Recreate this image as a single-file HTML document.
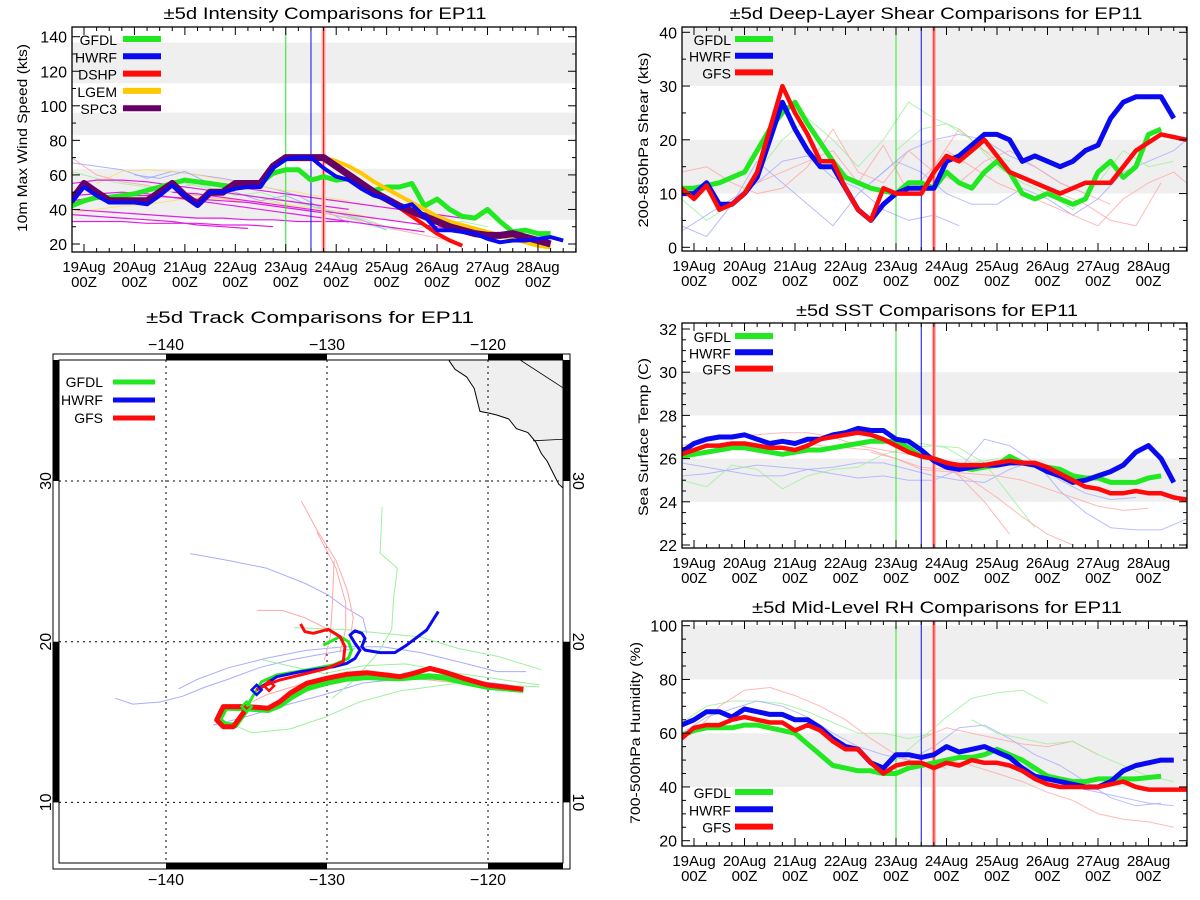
<!DOCTYPE html>
<html>
<head>
<meta charset="utf-8">
<style>
  html,body{margin:0;padding:0;background:#fff;}
  svg{display:block;font-family:"Liberation Sans",sans-serif;}
</style>
</head>
<body>
<svg id="chart" width="1200" height="900" viewBox="0 0 1200 900" xmlns="http://www.w3.org/2000/svg"></svg>
<script>
// ===== Intensity data (kts), 6-hourly from start day =====
const intStart = -0.25;
const intGFDL = [42,45,47,47,48,49,51,53,55,57,56,55,54,53,54,55,61,63,63,57,59,57,58,55,51,53,53,55,42,46,40,36,35,40,33,27,28,26,26];
const intHWRF = [44,53,48,44,44,44,43,48,54,48,42,50,50,52,53,53,64,69,70,70,64,59,57,52,48,46,41,43,36,28,28,27,26,23,21,22,22,23,24,22];
const intSPC3 = [45,55,50,45,45,45,45,50,55,48,43,50,50,55,55,55,65,70,70,70,70,65,60,55,50,46,42,39,36,33,30,28,26,25,25,26,24,22,20];
const intDSHPStart = 4.75;
const intDSHP = [70,65,60,55,50,46,41,36,31,26,22,19];
const intLGEMStart = 4.75;
const intLGEM = [70,68,65,61,56,52,48,44,40,36,33,31,29,27,25,23,21,19,18];
// thin lines, half-day steps
const intMagStarts = [-0.25,-0.25,-0.25,-0.25,-0.25,1.75,2.75,-0.25];
const intMagVals = [
 [55,57,57,56,54,52,50,48,46,44,42,40],
 [48,49,50,49,47,45,43,41,39,37,35,33,31,29,27],
 [40,39,38,37,36,35,35,34,34,33,33,33],
 [37,36,35,34,33,31,30,29],
 [33,33,33,32,32,32,31,31,30],
 [50,49,47,45,43,41,39,37,35,33,31,29],
 [53,52,50,48,46,44,42,40,38,36,34],
 [45,47,48,48,47,46,45,44,42,40,38]
];
const intPaleColors = ['#9aa0ff','#ffd966','#9cf09c','#ff9f9f','#ffd966','#9aa0ff','#9cf09c'];
const intPaleStarts = [-0.25,0.25,-0.25,-0.25,-0.25,1,2];
const intPaleVals = [
 [67,65,63,58,62,60,58,55,52,48,40,32],
 [55,62,63,62,60,57,55,52,50,47,45],
 [62,58,55,53,52,55,50,48,45,40,38,35,30,28],
 [70,60,56,54,50,48,46,44,42,40,38,35,32,28,25,22],
 [38,40,42,43,45,47,46,45,44,42,40,38,35],
 [60,58,62,55,50,45,48,42,38,34,28],
 [55,52,48,50,45,42,38,35,30,28,32,33,30]
];

// ===== Shear data (kts) =====
const shrStart = -0.25;
const shrGFDL = [11,11,11.5,12,13,14,18,22,25,27,23,19.5,16,13,12,11,10.5,10,12,12,11,14,12,11,14,16,14,10,9,10,9,8,9,14,16,13,15,21,22];
const shrHWRF = [10,10,12,8,8,10,13,20,27,22,18,15,15,11,7,5,8,10,11,11,11,16,17,19,21,21,20,16,17,16,15,16,18,19,24,27,28,28,28,24];
const shrGFS = [11,9,11.5,7,8,10,14,22,30,25,21,16,16,11,7,5,11,10,10,10,14,17,16,18,20,17,14,13,12,11,10,11,12,12,12,15,18,19.5,21,20.5,20];
const shrPaleColors = ['#9cf09c','#a8acff','#ffa8a8','#ffa8a8','#a8acff','#9cf09c','#ffa8a8','#a8acff'];
const shrPaleStarts = [-0.25,-0.25,-0.25,1.25,3.5,4,5,-0.25];
const shrPaleVals = [
 [9,5,8,14,20,24,20,15,20,27,24,22,18,16],
 [4,2,8,16,12,8,4,10,14,18,20,21,20,17,15,12,10],
 [14,15,12,10,11,15,22,14,12,18,14,12,16,18,15,12,10,8],
 [12,14,16,18,12,19,10,15,22,18,14,12,10,8,5,4,12],
 [12,16,14,10,8,8,11,9,6,9,14,16,18,22,29,32,31,31],
 [18,22,23,20,15,12,10,7,12,18,15,16],
 [18,15,12,10,8,6,4,9,12,14,10,8,4,9],
 [3,6,9,12,16,17,13,11,7,5,6,4]
];

// ===== SST data (C) =====
const sstStart = -0.25;
const sstGFDL = [26.1,26.2,26.3,26.4,26.5,26.5,26.4,26.3,26.2,26.3,26.4,26.4,26.5,26.6,26.7,26.8,26.8,26.8,26.5,26.1,26.0,25.8,25.6,25.5,25.6,25.7,26.1,25.8,25.7,25.6,25.5,25.2,25.1,25.1,24.9,24.9,24.9,25.1,25.2];
const sstHWRF = [26.3,26.7,26.9,27.0,27.0,27.1,26.9,26.7,26.8,26.7,26.9,26.9,27.1,27.2,27.4,27.3,27.3,26.9,26.8,26.4,25.9,25.6,25.5,25.6,25.7,25.7,25.8,25.8,25.7,25.4,25.2,24.9,25.0,25.2,25.4,25.7,26.3,26.6,26.0,24.9];
const sstGFS = [26.2,26.4,26.6,26.6,26.7,26.7,26.6,26.5,26.5,26.4,26.6,26.9,27.0,27.1,27.2,27.1,26.9,26.6,26.3,26.1,26.0,25.8,25.7,25.7,25.7,25.8,25.9,25.8,25.8,25.6,25.3,25.0,24.7,24.6,24.4,24.4,24.5,24.4,24.4,24.2,24.1];
const sstPaleColors = ['#a8acff','#9cf09c','#ffa8a8','#ffa8a8','#ffa8a8','#a8acff','#9cf09c'];
const sstPaleStarts = [-0.25,-0.25,-0.25,2,3.5,-0.25,4];
const sstPaleVals = [
 [25.2,25.3,25.5,25.7,25.6,25.5,25.6,25.8,25.8,25.5,25.2,25.0,24.9,25.5,25.9,24.5,23.5,22.8,22.7,22.7,23.2],
 [25.0,24.7,25.7,25.5,24.6,25.2,25.5,25.6,26.2,26.5,26.6,26.5,25.8,24.3,22.8],
 [26.6,26.8,27.0,27.1,27.2,27.2,27.0,26.6,26.4,26.2,26.0,25.2,24.0,22.5],
 [26.8,26.6,26.5,26.4,26.0,25.6,25.5,25.0,24.2,23.3,22.5,22.0],
 [26.3,26.0,25.5,25.4,25.3,25.2,25.0,24.6,24.2,23.8,23.6,23.7],
 [25.8,25.6,25.4,25.2,25.2,25.5,25.3,25.1,25.2,25.0,25.0,25.5,26.9,26.6,25.8,25.0,24.4,24.1,24.2],
 [26.6,26.7,26.5,25.8,26.0,25.9,25.3,25.3]
];

// ===== RH data (%) =====
const rhStart = -0.25;
const rhGFDL = [59,61,62,62,62,63,63,62,61,60,56,52,48,47,46,46,45,45,47,48,49,50,51,51,52,54,52,50,47,44,43,42,42,43,43,43,43,43.5,44];
const rhHWRF = [63,65,68,68,66,69,68,67,67,65,65,62,58,55,54,49,47,52,52,51,52,55,53,54,55,53,51,47,44,43,42,41,40,40,42,46,48,49,50,50];
const rhGFS = [58,62,63,63,65,66,65,64,64,61,63,61,57,54,54,49,45,48,49,49,47,49,48,50,49,49,48,46,43,41,40,40,40,40,41,42,40,39,39,39,39];
const rhPaleColors = ['#9cf09c','#9cf09c','#ffa8a8','#ffa8a8','#a8acff','#ffa8a8','#9cf09c','#a8acff'];
const rhPaleStarts = [-0.25,3.5,0,4.5,-0.25,5,5.5,6];
const rhPaleVals = [
 [64,70,72,72,71,68,64,60,60,58,60],
 [45,50,58,66,73,75,76,71],
 [60,70,76,77,74,70,65,58,52,48,47],
 [58,62,60,58,56,55,57,52],
 [60,66,69,72,70,66,60,55,52,50,55,62,63,58,52,48,42,36,33,34],
 [50,48,45,42,38,35,30,28,27,25],
 [65,60,58,56,57,52,48,44,42],
 [52,48,44,40,38,36,34,33]
];

// ===== Track data [lon, lat] =====
const trkGFSMain = [[-117.8,17.04],[-120.08,17.31],[-121.53,17.72],[-122.57,18.07],[-123.6,18.34],[-124.64,18.03],[-125.47,17.82],[-126.29,17.93],[-127.53,18.07],[-128.78,17.97],[-130.02,17.72],[-131.26,17.41],[-132.3,16.79],[-132.92,16.27],[-133.65,15.86],[-134.99,15.96],[-136.44,15.96],[-136.85,15.13],[-136.44,14.71],[-135.82,14.71],[-134.99,15.86]];
const trkGFDLMain = [[-117.8,17.0],[-120.08,17.2],[-121.53,17.5],[-122.57,17.75],[-123.6,17.85],[-124.64,17.8],[-125.47,17.72],[-126.29,17.75],[-127.53,17.8],[-128.78,17.7],[-130.02,17.45],[-131.26,17.1],[-132.3,16.5],[-132.92,16.05],[-133.65,15.75],[-134.99,15.85],[-136.3,15.9],[-136.7,15.15],[-136.3,14.8],[-135.7,14.8],[-134.99,15.8]];
const trkGFS = [[-134.37,17.0],[-133.75,17.31],[-132.92,17.62],[-131.26,18.03],[-130.02,18.34],[-128.99,18.76],[-128.88,19.69],[-129.19,20.31],[-129.92,20.77],[-130.85,20.52],[-131.37,20.62],[-131.64,21.1]];
const trkHWRF = [[-134.37,17.0],[-133.12,17.82],[-131.68,18.13],[-129.61,18.44],[-128.78,18.65],[-128.26,18.96],[-127.95,19.48],[-128.26,19.9],[-128.57,20.42],[-128.26,20.68],[-127.84,20.52],[-127.64,20.21],[-127.84,19.69],[-127.64,19.48],[-126.71,19.32],[-125.78,19.32],[-125.05,19.79],[-123.81,20.73],[-123.09,21.87]];
const trkGFDL = [[-134.99,15.96],[-134.06,17.51],[-133.12,17.93],[-131.26,18.24],[-129.61,18.55],[-128.67,18.96],[-128.47,19.48],[-128.67,20.0],[-129.19,20.31],[-130.23,19.79]];
const trkPaleColors = ['#a8acff','#a8acff','#a8acff','#a8acff','#ffa8a8','#ffa8a8','#ffa8a8','#ffa8a8','#ffa8a8','#9cf09c','#9cf09c','#9cf09c','#9cf09c'];
const trkPale = [
 [[-138.5,25.48],[-136.11,25.05],[-133.73,24.57],[-131.35,23.62],[-129.92,22.9],[-128.96,22.19],[-127.77,21.48],[-127.53,20.52]],
 [[-143.15,16.48],[-142.07,16.12],[-140.41,16.24],[-138.98,16.6],[-137.54,17.19],[-136.11,17.67],[-134.21,18.38],[-132.3,18.86],[-130.39,19.21],[-128.25,19.57]],
 [[-139.21,17.07],[-138.02,17.67],[-136.11,18.38],[-133.73,18.98],[-131.35,19.45],[-128.96,19.69],[-126.58,19.69],[-124.2,19.33],[-121.81,18.74],[-119.43,18.14],[-117.64,18.14]],
 [[-137.07,14.81],[-135.16,15.29],[-132.78,16.0],[-130.16,16.71],[-127.77,17.43],[-125.39,17.67],[-121.81,17.67],[-118.71,17.31]],
 [[-131.59,28.74],[-130.63,26.95],[-129.44,25.05],[-128.72,23.14],[-128.37,21.48],[-128.61,19.81]],
 [[-130.63,26.83],[-129.44,24.57],[-128.84,22.43],[-128.84,20.76],[-129.2,19.33]],
 [[-129.56,25.05],[-129.68,22.19],[-129.8,20.29],[-130.16,18.86]],
 [[-134.33,21.95],[-132.78,21.95],[-131.35,21.48],[-129.92,20.76],[-128.96,20.05]],
 [[-135.16,16.0],[-133.73,16.71],[-131.35,17.43],[-128.96,17.79],[-126.58,17.79],[-124.2,17.67],[-121.81,17.43],[-118.47,17.19]],
 [[-126.58,28.38],[-126.7,25.52],[-125.63,24.57],[-125.87,22.67],[-125.98,20.76],[-126.82,19.33],[-128.25,17.67],[-129.68,16.48]],
 [[-132.06,20.88],[-128.96,20.76],[-126.58,20.52],[-124.2,20.29],[-121.81,19.57],[-119.43,19.1],[-116.69,18.26]],
 [[-136.35,15.05],[-134.68,14.33],[-132.3,14.57],[-130.16,15.29],[-128.01,16.24],[-125.39,16.95],[-121.81,17.43],[-116.81,17.19]],
 [[-133.97,18.86],[-131.82,18.38],[-130.16,18.02],[-127.77,18.5],[-125.15,18.62],[-121.81,18.02],[-116.81,17.31]]
];
const coastLine = [[-122.41,37.6],[-122.41,37.48],[-122.05,36.95],[-121.33,36.48],[-120.86,35.76],[-120.62,34.81],[-120.5,34.33],[-119.9,34.21],[-119.43,34.1],[-118.71,33.86],[-118.24,33.26],[-117.52,33.02],[-117.04,32.43],[-116.69,31.71],[-116.33,31.24],[-115.97,30.52],[-115.61,29.81],[-115.34,29.57]];

const dayLabels = ['19Aug','20Aug','21Aug','22Aug','23Aug','24Aug','25Aug','26Aug','27Aug','28Aug'];
const vlineDays = [4, 4.5, 4.75];

const NS = 'http://www.w3.org/2000/svg';
const svg = document.getElementById('chart');
function mk(tag, attrs, parent){
  const e = document.createElementNS(NS, tag);
  for (const k in attrs) e.setAttribute(k, attrs[k]);
  (parent || svg).appendChild(e);
  return e;
}
function txt(parent, x, y, s, size, anchor, extra){
  const t = mk('text', Object.assign({x:x, y:y, 'font-size':size, 'text-anchor':anchor||'middle', fill:'#000'}, extra||{}), parent);
  t.textContent = s;
  return t;
}
const C = {g:'#22e822', b:'#0a0af0', r:'#ff0a0a', y:'#ffc800', p:'#660066', m:'#e020e0'};

function drawPanel(P){
  const g = mk('g', {});
  
  
  const xs = d => P.dayX0 + d * P.pxDay;
  const ys = v => P.yBase - (v - P.vBase) * P.pxUnit;
  const clip = mk('clipPath', {id: P.name + '-clip'}, g);
  mk('rect', {x:P.x0, y:P.y0, width:P.x1-P.x0, height:P.y1-P.y0}, clip);
  const plot = mk('g', {'clip-path':'url(#' + P.name + '-clip)'}, g);
  
  
  // bands
  P.bands.forEach(b => {
    const r = mk('rect', {x:P.x0, y:ys(b[1]), width:P.x1-P.x0, height:ys(b[0])-ys(b[1]), fill:'#efefef'}, plot);
    
    
  });
  const series = (start, vals, step, color, w, op, name) => {
    let d = '';
    vals.forEach((v,i) => { d += (i ? 'L' : 'M') + xs(start + i*step).toFixed(1) + ',' + ys(v).toFixed(1); });
    const p = mk('path', {d:d, fill:'none', stroke:color, 'stroke-width':w, 'stroke-opacity':op, 'stroke-linejoin':'round'}, plot);
    
    
    return p;
  };
  P.pale.forEach((vals,i) => series(P.paleStarts[i], vals, 0.5, P.paleColors[i], 1, 0.8, 'ensemble-line'));
  if (P.mag) P.mag.forEach((vals,i) => series(P.magStarts[i], vals, 0.5, C.m, 1.2, 1, 'ships-line'));
  // vertical lines
  const vc = [C.g, C.b, C.r];
  vlineDays.forEach((d,i) => {
    if (i === 2) {
      const h = mk('line', {x1:xs(d), x2:xs(d), y1:P.y0, y2:P.y1, stroke:'#ffb0b0', 'stroke-width':4}, plot);
      
      
    }
    const l = mk('line', {x1:xs(d), x2:xs(d), y1:P.y0, y2:P.y1, stroke:vc[i], 'stroke-width':1}, plot);
    
    
  });
  P.main.forEach(s => series(s.start, s.vals, 0.25, s.color, s.w, 1, s.name));
  // frame
  const f = mk('rect', {x:P.x0, y:P.y0, width:P.x1-P.x0, height:P.y1-P.y0, fill:'none', stroke:'#000', 'stroke-width':1.3}, g);
  
  
  // x ticks
  for (let q = -1; q <= 39; q++) {
    const d = q * 0.25, x = xs(d);
    if (x < P.x0 || x > P.x1) continue;
    const len = (q % 4 === 0) ? 8 : 4;
    mk('line', {x1:x, x2:x, y1:P.y1, y2:P.y1-len, stroke:'#000', 'stroke-width':1}, g);
    mk('line', {x1:x, x2:x, y1:P.y0, y2:P.y0+len, stroke:'#000', 'stroke-width':1}, g);
  }
  dayLabels.forEach((lab,i) => {
    const t1 = txt(g, xs(i), P.y1 + 20, lab, 15);
    
    
    const t2 = txt(g, xs(i), P.y1 + 35, '00Z', 15);
    
    
  });
  // y ticks
  for (let v = P.tickMin; v <= P.tickMax + 1e-6; v += P.minor) {
    const y = ys(v);
    const major = Math.abs(((v - P.tickMin) / P.major) - Math.round((v - P.tickMin) / P.major)) < 1e-6;
    const len = major ? 8 : 4;
    mk('line', {x1:P.x0, x2:P.x0+len, y1:y, y2:y, stroke:'#000', 'stroke-width':1}, g);
    mk('line', {x1:P.x1, x2:P.x1-len, y1:y, y2:y, stroke:'#000', 'stroke-width':1}, g);
    if (major) {
      const t = txt(g, P.x0 - 5, y + 6, String(v), 16, 'end');
      
      
    }
  }
  // titles
  const tt = txt(g, P.titleX, P.titleY, P.title, 17, 'middle', {textLength:P.titleW, lengthAdjust:'spacingAndGlyphs'});
  
  
  const yt = txt(g, 0, 0, P.ytitle, 14, 'middle', {transform:'translate(' + P.ytX + ',' + P.ytY + ') rotate(-90)', textLength:P.ytW, lengthAdjust:'spacingAndGlyphs'});
  
  
  // legend
  P.legend.forEach((e,i) => {
    const y = P.legY + i * P.legDy;
    const lt = txt(g, P.legTextX, y + 6, e[0], 14, 'end');
    
    
    const ll = mk('line', {x1:P.legLineX, x2:P.legLineX + 38, y1:y, y2:y, stroke:e[1], 'stroke-width':6}, g);
    
    
  });
}

// Intensity panel
drawPanel({name:'intensity-panel', x0:72, x1:576, y0:27, y1:252, dayX0:84, pxDay:50.44,
  yBase:244, vBase:20, pxUnit:1.7275, tickMin:20, tickMax:140, major:20, minor:10,
  bands:[[34,63.5],[83,96],[113,136.5]],
  pale:intPaleVals, paleStarts:intPaleStarts, paleColors:intPaleColors,
  mag:intMagVals, magStarts:intMagStarts,
  main:[
    {start:intStart, vals:intGFDL, color:C.g, w:5, name:'gfdl-intensity-line'},
    {start:intDSHPStart, vals:intDSHP, color:C.r, w:4, name:'dshp-intensity-line'},
    {start:intLGEMStart, vals:intLGEM, color:C.y, w:4, name:'lgem-intensity-line'},
    {start:intStart, vals:intSPC3, color:C.p, w:7, name:'spc3-intensity-line'},
    {start:intStart, vals:intHWRF, color:C.b, w:4, name:'hwrf-intensity-line'}
  ],
  title:'±5d Intensity Comparisons for EP11', titleX:325, titleY:19, titleW:323,
  ytitle:'10m Max Wind Speed (kts)', ytX:27, ytY:138, ytW:188,
  legend:[['GFDL',C.g],['HWRF',C.b],['DSHP',C.r],['LGEM',C.y],['SPC3',C.p]],
  legY:39, legDy:17.3, legTextX:117, legLineX:123});

// Shear panel
drawPanel({name:'shear-panel', x0:682, x1:1187, y0:27, y1:251, dayX0:694, pxDay:50.5,
  yBase:247.3, vBase:0, pxUnit:5.375, tickMin:0, tickMax:40, major:10, minor:5,
  bands:[[10,20],[30,41]],
  pale:shrPaleVals, paleStarts:shrPaleStarts, paleColors:shrPaleColors,
  main:[
    {start:shrStart, vals:shrGFDL, color:C.g, w:5, name:'gfdl-shear-line'},
    {start:shrStart, vals:shrHWRF, color:C.b, w:5, name:'hwrf-shear-line'},
    {start:shrStart, vals:shrGFS, color:C.r, w:4.5, name:'gfs-shear-line'}
  ],
  title:'±5d Deep-Layer Shear Comparisons for EP11', titleX:936, titleY:19, titleW:413,
  ytitle:'200-850hPa Shear (kts)', ytX:648, ytY:140, ytW:175,
  legend:[['GFDL',C.g],['HWRF',C.b],['GFS',C.r]],
  legY:39, legDy:16.7, legTextX:731, legLineX:735});

// SST panel
drawPanel({name:'sst-panel', x0:682, x1:1187, y0:323, y1:548, dayX0:694, pxDay:50.5,
  yBase:545, vBase:22, pxUnit:21.6, tickMin:22, tickMax:32, major:2, minor:0.5,
  bands:[[24,26],[28,30]],
  pale:sstPaleVals, paleStarts:sstPaleStarts, paleColors:sstPaleColors,
  main:[
    {start:sstStart, vals:sstGFDL, color:C.g, w:5, name:'gfdl-sst-line'},
    {start:sstStart, vals:sstHWRF, color:C.b, w:5, name:'hwrf-sst-line'},
    {start:sstStart, vals:sstGFS, color:C.r, w:4.5, name:'gfs-sst-line'}
  ],
  title:'±5d SST Comparisons for EP11', titleX:937, titleY:316, titleW:282,
  ytitle:'Sea Surface Temp (C)', ytX:648, ytY:437, ytW:158,
  legend:[['GFDL',C.g],['HWRF',C.b],['GFS',C.r]],
  legY:336, legDy:16.3, legTextX:731, legLineX:735});

// RH panel
drawPanel({name:'rh-panel', x0:682, x1:1187, y0:621, y1:846, dayX0:694, pxDay:50.5,
  yBase:840.7, vBase:20, pxUnit:2.6875, tickMin:20, tickMax:100, major:20, minor:5,
  bands:[[40,60],[80,100]],
  pale:rhPaleVals, paleStarts:rhPaleStarts, paleColors:rhPaleColors,
  main:[
    {start:rhStart, vals:rhGFDL, color:C.g, w:5, name:'gfdl-rh-line'},
    {start:rhStart, vals:rhHWRF, color:C.b, w:5, name:'hwrf-rh-line'},
    {start:rhStart, vals:rhGFS, color:C.r, w:4.5, name:'gfs-rh-line'}
  ],
  title:'±5d Mid-Level RH Comparisons for EP11', titleX:937, titleY:613, titleW:370,
  ytitle:'700-500hPa Humidity (%)', ytX:640, ytY:733, ytW:182,
  legend:[['GFDL',C.g],['HWRF',C.b],['GFS',C.r]],
  legY:792, legDy:17.3, legTextX:731, legLineX:735});

// ===== Map panel =====
(function(){
  const g = mk('g', {});
  
  
  const lx = lon => 166 + (lon + 140) * 16.1;
  const ly = lat => 481 + (30 - lat) * 16.07;
  const ix0 = 59, ix1 = 563, iy0 = 360, iy1 = 863, ox0 = 53, ox1 = 570, oy0 = 354, oy1 = 869;
  const clip = mk('clipPath', {id:'map-clip'}, g);
  mk('rect', {x:ix0, y:iy0, width:ix1-ix0, height:iy1-iy0}, clip);
  const m = mk('g', {'clip-path':'url(#map-clip)'}, g);
  
  
  // land
  let d = '';
  coastLine.forEach((p,i) => { d += (i ? 'L' : 'M') + lx(p[0]).toFixed(1) + ',' + ly(p[1]).toFixed(1); });
  const land = mk('path', {d: d + 'L' + ix1 + ',' + iy0 + 'Z', fill:'#efefef', stroke:'#000', 'stroke-width':1}, m);
  
  
  const b1 = mk('line', {x1:lx(-118.0), y1:iy0, x2:ix1, y2:ly(35.8), stroke:'#000', 'stroke-width':0.8}, m);
  
  
  const b2 = mk('line', {x1:lx(-117.2), y1:ly(32.5), x2:ix1, y2:ly(32.6), stroke:'#000', 'stroke-width':0.8}, m);
  
  
  // grid
  [-140,-130,-120].forEach(lon => {
    const l = mk('line', {x1:lx(lon), x2:lx(lon), y1:iy0, y2:iy1, stroke:'#000', 'stroke-width':1, 'stroke-dasharray':'2,4'}, m);
    
    
  });
  [30,20,10].forEach(lat => {
    const l = mk('line', {x1:ix0, x2:ix1, y1:ly(lat), y2:ly(lat), stroke:'#000', 'stroke-width':1, 'stroke-dasharray':'2,4'}, m);
    
    
  });
  const trk = (pts, color, w, name) => {
    let dd = '';
    pts.forEach((p,i) => { dd += (i ? 'L' : 'M') + lx(p[0]).toFixed(1) + ',' + ly(p[1]).toFixed(1); });
    const p = mk('path', {d:dd, fill:'none', stroke:color, 'stroke-width':w, 'stroke-linejoin':'round'}, m);
    
    
  };
  trkPale.forEach((pts,i) => trk(pts, trkPaleColors[i], 1, 'ensemble-track'));
  trk(trkGFDLMain, C.g, 6, 'gfdl-analysis-track');
  trk(trkGFSMain, C.r, 5, 'gfs-analysis-track');
  trk(trkGFDL, C.g, 3, 'gfdl-forecast-track');
  trk(trkHWRF, C.b, 3, 'hwrf-forecast-track');
  trk(trkGFS, C.r, 3, 'gfs-forecast-track');
  [[trkHWRF[0], C.b],[trkGFDL[0], C.g],[[-133.6,17.25], C.r]].forEach(e => {
    const x = lx(e[0][0]), y = ly(e[0][1]);
    const dm = mk('path', {d:'M' + x + ',' + (y-5) + 'L' + (x+5) + ',' + y + 'L' + x + ',' + (y+5) + 'L' + (x-5) + ',' + y + 'Z', fill:'none', stroke:e[1], 'stroke-width':2.5}, m);
    
    
  });
  // frame
  const fo = mk('rect', {x:ox0, y:oy0, width:ox1-ox0, height:oy1-oy0, fill:'none', stroke:'#000', 'stroke-width':1}, g);
  
  
  const fi = mk('rect', {x:ix0, y:iy0, width:ix1-ix0, height:iy1-iy0, fill:'none', stroke:'#000', 'stroke-width':1}, g);
  
  
  // alternating border bars
  const hSeg = [[lx(-140), lx(-130)], [lx(-120), ix1]];
  hSeg.forEach(s => {
    mk('rect', {x:s[0], y:oy0, width:s[1]-s[0], height:iy0-oy0, fill:'#000'}, g);
    mk('rect', {x:s[0], y:iy1, width:s[1]-s[0], height:oy1-iy1, fill:'#000'}, g);
  });
  const vSeg = [[iy0, ly(30)], [ly(20), ly(10)]];
  vSeg.forEach(s => {
    mk('rect', {x:ox0, y:s[0], width:ix0-ox0, height:s[1]-s[0], fill:'#000'}, g);
    mk('rect', {x:ix1, y:s[0], width:ox1-ix1, height:s[1]-s[0], fill:'#000'}, g);
  });
  // labels
  [-140,-130,-120].forEach(lon => {
    const a = txt(g, lx(lon), 352 - 2, '\u2212' + Math.abs(lon), 16);
    
    
    const b = txt(g, lx(lon), 885, '\u2212' + Math.abs(lon), 16);
    
    
  });
  [30,20,10].forEach(lat => {
    const a = txt(g, 0, 0, String(lat), 16, 'middle', {transform:'translate(' + 51 + ',' + ly(lat) + ') rotate(-90)'});
    
    
    const b = txt(g, 0, 0, String(lat), 16, 'middle', {transform:'translate(' + 573 + ',' + ly(lat) + ') rotate(90)'});
    
    
  });
  const t = txt(g, 310, 323, '±5d Track Comparisons for EP11', 17, 'middle', {textLength:328, lengthAdjust:'spacingAndGlyphs'});
  
  
  [['GFDL',C.g],['HWRF',C.b],['GFS',C.r]].forEach((e,i) => {
    const y = 382 + i * 18;
    const lt = txt(g, 103, y + 5, e[0], 14, 'end');
    
    
    const ll = mk('line', {x1:113, x2:155, y1:y, y2:y, stroke:e[1], 'stroke-width':5}, g);
    
    
  });
})();
</script>
</body>
</html>
